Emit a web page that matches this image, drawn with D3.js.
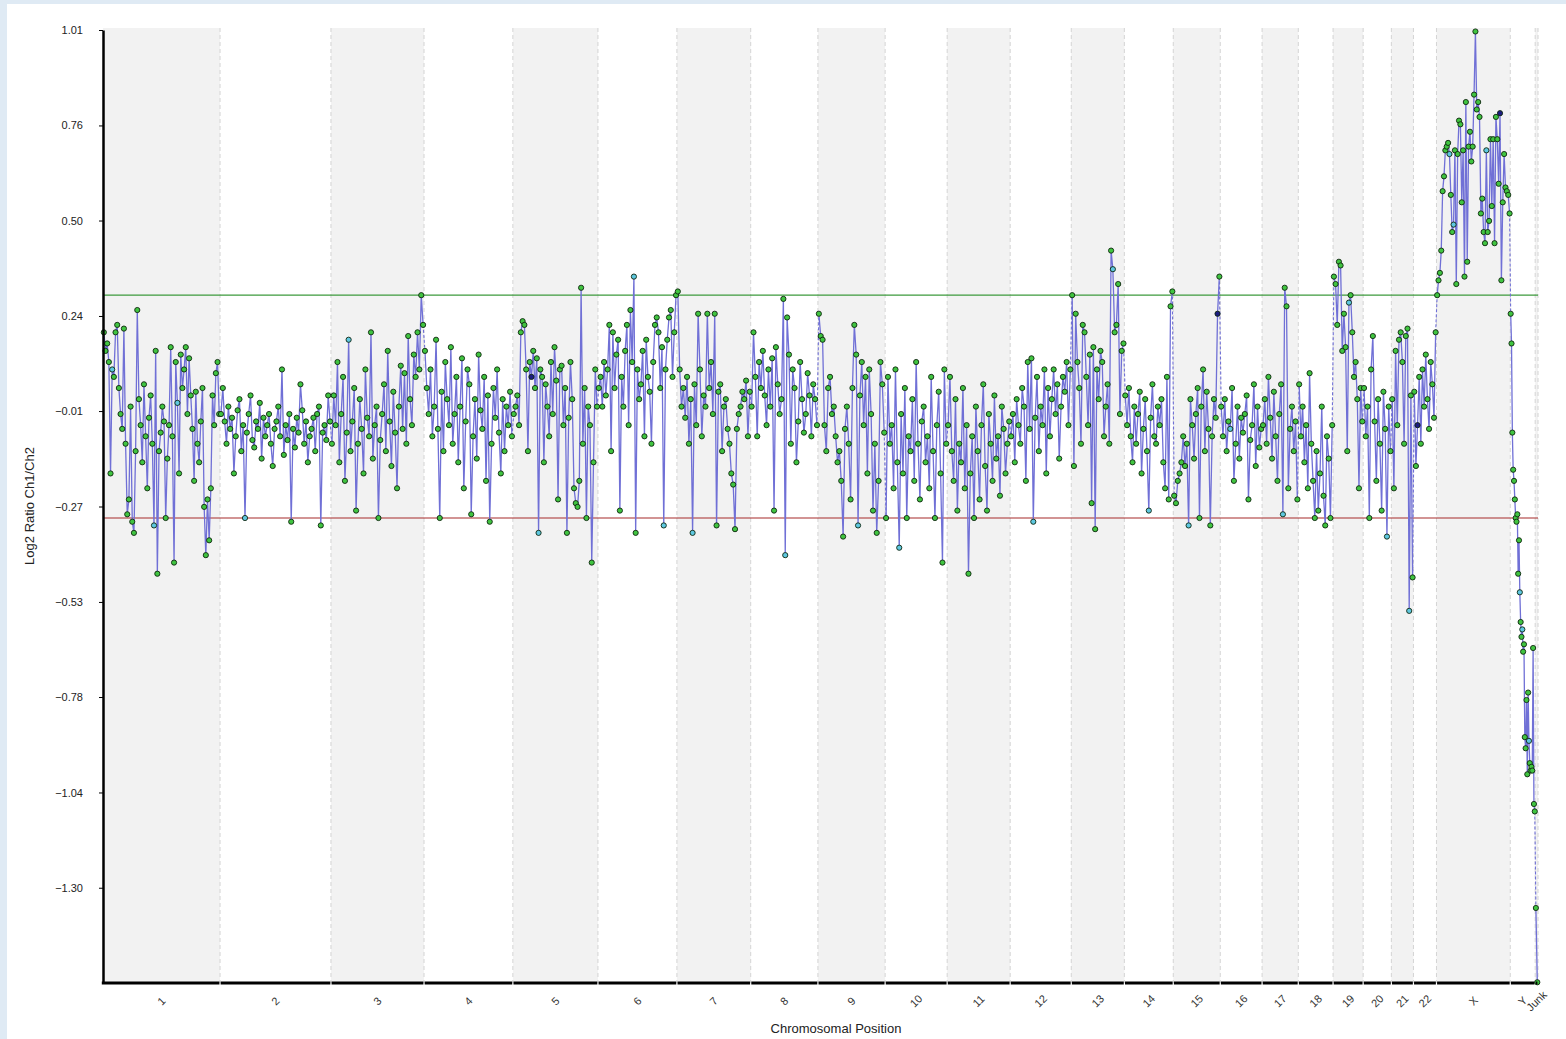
<!DOCTYPE html>
<html>
<head>
<meta charset="utf-8">
<script src="https://cdn.jsdelivr.net/npm/d3@7/dist/d3.min.js"></script>
<style>
body { margin: 0; background: #dfeaf4; }
text { font-family: 'Liberation Sans', Arial, sans-serif; }
</style>
</head>
<body>
<div id="chart"></div>
<script>
const Width = 1566
const Height = 1039

// chromosomes and their (approximate) sizes in Mb, as spaced on the axis
const chroms = ['1','2','3','4','5','6','7','8','9','10','11','12','13','14','15','16','17','18','19','20','21','22','X','Y','Junk']
const chromSizes = [249,236,198,189,181,168,157,143,143,132,134,130,113,104,100,89,77,74,64,60,47,49,157,53,6]

// log2 ratio values per chromosome, in order along the chromosome
const chr1 = [.2,.15,.17,.12,-.18,.1,.08,.2,.22,.05,-.02,-.06,.21,-.1,-.29,-.25,0,-.31,-.34,-.12,.26,.02,-.05,-.15,.06,-.08,-.22,-.03,.03,-.1,-.32,.15,-.45,-.12,-.07,0,-.04,-.3,-.14,-.05,.16,-.08,-.42,.12,.01,-.18,.14,.05,.1,.16,-.02,.13,.03,-.06,-.2,.04,-.1,-.15,-.04,.05,-.27,-.4,-.25,-.36,-.22,.03,-.05,.09,.12,-.02]
const chr2 = [-.02,.05,-.04,-.1,0,-.06,-.03,-.18,-.08,-.01,.02,-.12,-.05,-.3,-.07,-.02,.03,-.09,-.11,-.04,-.06,.01,-.14,-.03,-.08,-.05,-.02,-.1,-.16,-.06,-.04,0,-.08,.1,-.13,-.05,-.09,-.02,-.31,-.06,-.11,-.03,-.07,.06,-.01,-.1,-.04,-.15,-.08,-.06,-.03,-.12,-.02,0,-.32,-.07,-.05,-.09,.03,-.04]
const chr3 = [-.1,.03,-.05,.12,-.15,-.02,.08,-.2,-.07,.18,-.12,-.04,.05,-.28,-.1,.02,-.06,-.18,.1,-.03,-.08,.2,-.14,-.05,0,-.3,-.09,-.02,.06,-.12,.15,-.04,-.16,.04,-.07,-.22,0,.11,-.06,.09,-.1,.19,.02,-.05,.14,.08,.2,.1,.3,.22]
const chr4 = [.15,.05,-.02,.1,-.08,0,.18,-.06,-.3,.04,-.12,.12,.02,-.05,.16,-.1,-.02,.08,-.15,0,.13,-.22,-.04,.1,.06,-.29,-.08,.02,-.14,.14,-.01,-.06,.08,-.2,.03,-.31,-.1,.05,-.03,.1,-.07,-.18,.02,-.12,0,-.05,.04,-.08]
const chr5 = [-.02,0,.03,-.05,.2,.23,.22,.1,-.12,.12,.08,.15,.05,.13,-.34,.1,.08,-.15,.06,0,-.08,.12,-.02,.16,.07,-.25,.1,.11,-.05,.05,-.34,-.03,.12,.02,-.22,-.26,-.27,-.2,.32,-.1,.05,-.3,0,-.05,-.42,-.15,.1,0]
const chr6 = [.05,.08,0,.12,.03,.1,.22,-.12,.2,.05,.14,.18,-.28,.08,0,.15,.22,-.05,.26,.12,.35,-.34,.1,.02,.06,.15,-.08,.18,.08,.04,-.1,.12,.22,.24,.2,.05,.16,-.32,.1,.18,.24,.26,.08,.2,.3]
const chr7 = [.31,.1,0,.05,-.03,.08,-.1,.02,-.34,.06,-.05,.25,.1,-.08,.03,0,.25,.05,.12,-.02,.25,-.32,.04,.06,-.12,0,.02,-.06,-.1,-.18,-.21,-.33,-.06,-.02,0,.04,.02,.07,-.08,.04]
const chr8 = [0,.2,.08,-.08,.12,.05,.15,.03,-.05,.1,0,.13,-.28,.16,.06,-.02,.02,.29,-.4,.24,.14,-.1,.1,.05,-.15,-.04,.12,.02,-.07,-.02,.09,.03,-.08,.06,.02,-.05]
const chr9 = [.25,.19,.18,-.05,-.12,.05,.08,-.02,0,-.08,-.15,-.12,-.2,-.35,-.06,0,-.1,-.25,.05,.22,.14,-.32,.03,.12,-.05,.08,-.18,.1,-.02,-.28,-.1,-.34,-.2,.12,.06,-.07]
const chr10 = [-.3,.08,-.1,-.05,-.22,.1,-.15,-.38,-.02,-.18,.05,-.3,-.08,-.12,.02,-.2,.12,-.1,-.25,-.04,0,-.15,-.08,-.22,.08,-.12,-.3,-.05,.04,-.18,-.42,.1,-.1]
const chr11 = [-.05,.08,-.12,-.2,.02,-.28,-.1,-.15,.05,-.22,-.05,-.45,-.18,-.08,-.3,0,-.12,-.25,-.05,.06,-.16,-.28,-.02,-.1,-.2,.03,-.14,-.08,-.24,0,-.06,-.18,-.1,-.04]
const chr12 = [-.08,-.02,-.15,.02,-.05,-.1,.05,0,-.2,.12,-.06,.13,-.31,-.03,.08,-.12,0,-.05,.1,-.18,.05,-.08,.02,.1,-.02,.06,-.14,0,.08,.04,.12,-.05,.1]
const chr13 = [.3,-.16,.25,.12,.05,-.1,.22,.2,.08,-.05,.14,-.26,.16,-.33,.1,.02,.15,.12,-.08,0,.06,-.1,.42,.37,.2,.22,.33,-.02,.15,.17]
const chr14 = [.03,-.05,.05,-.08,-.15,0,-.1,-.02,.04,-.18,-.06,.02,-.12,-.28,-.03,.06,-.08,-.1,0,-.05,.02,-.15,-.22,.08,-.25,.27,.31]
const chr15 = [-.24,-.26,-.2,-.18,-.15,-.08,-.16,-.1,-.32,.02,-.05,-.14,-.02,.05,-.3,0,.1,-.12,.04,-.06,-.32,-.08,.02,-.03,.25,.35]
const chr16 = [0,-.08,.02,-.12,-.04,-.06,.05,-.2,-.1,0,-.14,-.03,-.07,-.02,.03,-.25,-.09,-.05,.06,-.16,0,-.11,-.06]
const chr17 = [-.05,.02,-.1,.08,-.03,-.14,.04,-.08,-.2,-.02,.06,-.29,.32,.27,-.22,-.06,0,-.12,-.04,-.25]
const chr18 = [.06,-.08,0,-.15,-.05,-.22,.09,-.1,-.2,-.3,-.12,-.28,-.18,0,-.24,-.32,-.08,-.14,-.3,-.05]
const chr19 = [.35,.33,.22,.39,.38,.15,.25,.16,-.12,.28,.3,.2,.08,.12,.02,-.22,.05,-.04]
const chr20 = [.05,-.08,0,-.3,.1,.19,-.04,-.2,.02,-.1,-.28,.04,-.06,-.35,0,-.12]
const chr21 = [.02,-.22,.15,-.05,.18,.2,.12,-.1,.19,.21,-.55,.03,-.46]
const chr22 = [.04,-.16,-.05,.08,-.1,.1,0,.14,.02,-.06,.12,.06,-.03,.2]
const chrX = [.3,.34,.36,.42,.58,.62,.69,.7,.71,.68,.57,.47,.49,.69,.33,.68,.77,.76,.55,.69,.35,.82,.39,.7,.74,.66,.7,.84,1.01,.8,.82,.78,.52,.56,.47,.44,.69,.47,.5,.72,.54,.72,.44,.78,.72,.6,.79,.34,.55,.68,.59,.58,.57,.52]
const chrY = [.25,.17,-.07,-.17,-.2,-.25,-.3,-.31,-.29,-.45,-.36,-.5,-.58,-.62,-.6,-.66,-.64,-.89,-.92,-.79,-.99,-.77,-.9,-.96,-.98,-.97,-.98,-.65,-1.07,-1.09]
const chrJunk = [-1.35,-1.55]
const chromValues = [chr1,chr2,chr3,chr4,chr5,chr6,chr7,chr8,chr9,chr10,chr11,chr12,chr13,chr14,chr15,chr16,chr17,chr18,chr19,chr20,chr21,chr22,chrX,chrY,chrJunk]

// points drawn with a light blue or navy marker instead of green
const cyanPts = [['1',5],['1',30],['1',44],['2',13],['3',9],['5',14],['6',20],['6',37],['7',8],['8',18],['9',21],['10',7],['12',12],['13',23],['14',13],['15',8],['16',5],['17',11],['19',9],['20',13],['21',10],['X',9],['X',12],['X',36],['Y',11],['Y',14],['Y',22]]
const navyPts = [['5',10],['15',24],['22',2],['X',46]]

const yTicks = [1.014, 0.757, 0.501, 0.244, -0.012, -0.269, -0.526, -0.782, -1.039, -1.2955]
const gainLine = 0.30
const lossLine = -0.30

const plotLeft = 103, plotRight = 1538, plotTop = 30, plotBottom = 983

const svg = d3.select('#chart')
    .append('svg')
    .attr('width', Width)
    .attr('height', Height)
    .style('display', 'block')

svg.append('rect').attr('width', Width).attr('height', Height).attr('fill', '#dfeaf4')
svg.append('rect').attr('x', 7).attr('y', 4).attr('width', Width - 7).attr('height', Height - 4).attr('fill', '#fff')

const starts = []
let acc = 0
chromSizes.forEach(s => { starts.push(acc); acc += s })

const x = d3.scaleLinear().domain([0, acc]).range([plotLeft, plotRight])
const y = d3.scaleLinear().domain([-1.552, 1.014]).range([plotBottom, plotTop])

// alternating chromosome bands
chroms.forEach((c, i) => {
    const x0 = x(starts[i]), x1 = x(starts[i] + chromSizes[i])
    if (i % 2 === 0) {
        svg.append('rect')
            .attr('x', x0).attr('y', plotTop - 2)
            .attr('width', x1 - x0).attr('height', plotBottom - plotTop + 2)
            .attr('fill', '#f2f2f2')
    }
})
chroms.forEach((c, i) => {
    if (i === 0) return
    const xb = x(starts[i])
    svg.append('line')
        .attr('x1', xb).attr('x2', xb)
        .attr('y1', plotTop - 2).attr('y2', plotBottom)
        .attr('stroke', '#d4d4d4')
        .attr('stroke-dasharray', '4,3')
})
svg.append('line')
    .attr('x1', plotRight).attr('x2', plotRight)
    .attr('y1', plotTop - 2).attr('y2', plotBottom)
    .attr('stroke', '#d4d4d4')
    .attr('stroke-dasharray', '4,3')

// threshold lines
svg.append('line')
    .attr('x1', plotLeft).attr('x2', plotRight)
    .attr('y1', y(gainLine)).attr('y2', y(gainLine))
    .attr('stroke', '#3c9a3c').attr('stroke-width', 1.2)
svg.append('line')
    .attr('x1', plotLeft).attr('x2', plotRight)
    .attr('y1', y(lossLine)).attr('y2', y(lossLine))
    .attr('stroke', '#a52a2a').attr('stroke-width', 1.2)

// build points
const points = chromValues.map((vals, i) => vals.map((v, j) => ({
    chrom: chroms[i],
    idx: j,
    pos: starts[i] + (j + 0.5) / vals.length * chromSizes[i],
    v: v
})))

const line = d3.line().x(d => x(d.pos)).y(d => y(d.v))

// dashed joins between chromosomes
for (let i = 0; i < points.length - 1; i++) {
    const a = points[i][points[i].length - 1], b = points[i + 1][0]
    svg.append('path')
        .attr('d', line([a, b]))
        .attr('fill', 'none')
        .attr('stroke', '#7070d6')
        .attr('stroke-width', 1.1)
        .attr('stroke-dasharray', '3,2')
}

svg.selectAll('path.seg')
    .data(points)
    .enter().append('path')
    .attr('class', 'seg')
    .attr('d', line)
    .attr('fill', 'none')
    .attr('stroke', '#7070d6')
    .attr('stroke-width', 1.3)

const isIn = (list, d) => list.some(p => p[0] === d.chrom && p[1] === d.idx)

svg.selectAll('circle')
    .data(points.flat())
    .enter().append('circle')
    .attr('cx', d => x(d.pos))
    .attr('cy', d => y(d.v))
    .attr('r', 2.6)
    .attr('fill', d => isIn(navyPts, d) ? '#1c1c80' : isIn(cyanPts, d) ? '#5ec8e0' : '#40c440')
    .attr('stroke', '#0f260f')
    .attr('stroke-width', 0.9)

// left axis
const yAxisCall = d3.axisLeft(y)
    .tickValues(yTicks)
    .tickFormat(d3.format('.2f'))
    .tickSize(4)
    .tickSizeOuter(0)
const gy = svg.append('g')
    .attr('transform', `translate(${plotLeft},0)`)
    .call(yAxisCall)
gy.select('.domain').attr('stroke', '#000').attr('stroke-width', 2.5)
gy.selectAll('.tick line').attr('stroke', '#000')
gy.selectAll('.tick text')
    .attr('x', -20)
    .attr('fill', '#222')
    .style('font-size', '11px')

// bottom axis: one segment per chromosome
chroms.forEach((c, i) => {
    const x0 = x(starts[i]), x1 = x(starts[i] + chromSizes[i])
    svg.append('line')
        .attr('x1', x0 + (i === 0 ? -1.2 : 0.6)).attr('x2', x1 - 0.6)
        .attr('y1', plotBottom).attr('y2', plotBottom)
        .attr('stroke', '#000').attr('stroke-width', 3)
    const cx = x(starts[i] + chromSizes[i] / 2)
    svg.append('text')
        .attr('transform', `translate(${cx},1001) rotate(-45)`)
        .attr('text-anchor', 'middle')
        .attr('dy', '0.35em')
        .attr('fill', '#333')
        .style('font-size', '11px')
        .text(c)
})

svg.append('text')
    .attr('x', 836).attr('y', 1033)
    .attr('text-anchor', 'middle')
    .attr('fill', '#222')
    .style('font-size', '13px')
    .text('Chromosomal Position')

svg.append('text')
    .attr('transform', 'translate(34,506) rotate(-90)')
    .attr('text-anchor', 'middle')
    .attr('fill', '#222')
    .style('font-size', '13px')
    .text('Log2 Ratio Ch1/Ch2')
</script>
</body>
</html>
